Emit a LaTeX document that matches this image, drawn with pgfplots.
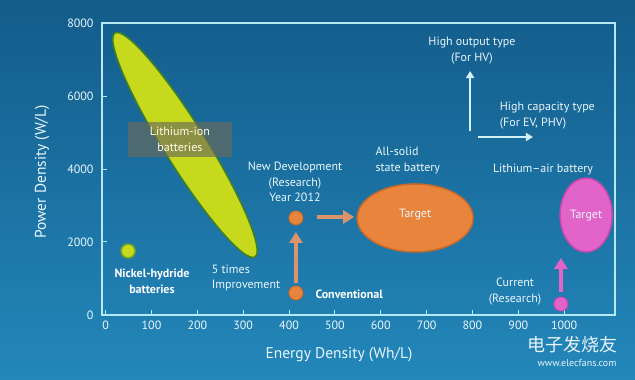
\documentclass[border=0pt]{standalone}
\usepackage{fontspec}
\setmainfont{PT Sans}
\newfontfamily\cjk{Noto Sans CJK SC}
\usepackage{pgfplots}
\pgfplotsset{compat=1.18}
\usetikzlibrary{arrows.meta}
\definecolor{bgtop}{HTML}{135C8A}
\definecolor{bgbot}{HTML}{2387BA}
\definecolor{axcol}{HTML}{B5EAF5}
\definecolor{txt}{HTML}{EAF7FB}
\definecolor{liion}{HTML}{C6D91C}
\definecolor{liedge}{HTML}{3F7F2A}
\definecolor{orng}{HTML}{E8843C}
\definecolor{orngedge}{HTML}{C8692C}
\definecolor{orarrow}{HTML}{D9946C}
\definecolor{pinkf}{HTML}{E264C8}
\definecolor{pinkedge}{HTML}{C848B0}
\definecolor{boxc}{HTML}{6B6A5A}
\begin{document}
\begin{tikzpicture}
\useasboundingbox (0pt,0pt) rectangle (635pt,380pt);
\shade[top color=bgtop, bottom color=bgbot] (0pt,0pt) rectangle (635pt,380pt);
\begin{axis}[
  at={(102pt,65pt)}, anchor=south west,
  width=513pt, height=292pt, scale only axis,
  xmin=-8, xmax=1111, ymin=0, ymax=8000,
  clip=false,
  axis line style={axcol, line width=2pt},
  xtick={0,100,...,1000}, ytick={0,2000,...,8000},
  xtick pos=left, ytick pos=left, tick align=inside,
  major tick length=5pt,
  tick style={axcol, line width=1pt},
  ticklabel style={font=\fontsize{12}{13}\selectfont, text=txt},
  yticklabel style={xshift=-5pt},
  xticklabel style={yshift=-2pt},
  /pgf/number format/assume math mode=true,
  /pgf/number format/1000 sep={},
  scaled ticks=false,
  xlabel={Energy Density (Wh/L)},
  ylabel={Power Density (W/L)},
  xlabel style={at={(axis description cs:0.462,-0.137)}, anchor=center, font=\fontsize{15.5}{18}\selectfont, text=txt},
  ylabel style={at={(axis description cs:-0.117,0.49)}, anchor=center, font=\fontsize{15.5}{18}\selectfont, text=txt},
]
% Lithium-ion region
\addplot[only marks, mark=*, mark size=21pt,
  mark options={fill=liion, draw=liedge, line width=1.6pt, rotate=-58, xscale=6.29}]
  coordinates {(173,4658)};
% Nickel-hydride
\addplot[only marks, mark=*, mark size=7pt,
  mark options={fill=liion, draw=liedge!60!liion, line width=1.5pt}]
  coordinates {(49,1753)};
% orange arrows
\addplot[orarrow, line width=4pt, -{Triangle[width=13pt,length=11pt]}]
  coordinates {(415,877) (415,2274)};
\addplot[orarrow, line width=4pt, -{Triangle[width=13pt,length=11pt]}]
  coordinates {(461,2685) (542,2685)};
% orange points
\addplot[only marks, mark=*, mark size=7pt,
  mark options={fill=orng, draw=orngedge, line width=1pt}]
  coordinates {(415,2658) (415,603)};
% all-solid target
\addplot[only marks, mark=*, mark size=34pt,
  mark options={fill=orng, draw=orngedge, line width=1.5pt, xscale=1.706}]
  coordinates {(675,2658)};
% lithium-air target
\addplot[only marks, mark=*, mark size=26pt,
  mark options={fill=pinkf, draw=pinkedge, line width=1.5pt, yscale=1.423}]
  coordinates {(1048,2740)};
% pink arrow and point
\addplot[pinkf, line width=4pt, -{Triangle[width=13pt,length=11pt]}]
  coordinates {(993,630) (993,1562)};
\addplot[only marks, mark=*, mark size=7pt,
  mark options={fill=pinkf, draw=pinkedge, line width=1pt}]
  coordinates {(993,301)};
% white arrows
\addplot[axcol!60!white, line width=1.8pt, -{Triangle[width=8pt,length=7pt]}]
  coordinates {(795,5041) (795,6685)};
\addplot[axcol!60!white, line width=1.8pt, -{Triangle[width=8pt,length=7pt]}]
  coordinates {(812,4877) (932,4877)};
% anchor points for labels
\coordinate (liLab) at (axis cs:162,4808);
\coordinate (niLab) at (axis cs:101,918);
\coordinate (fiveLab) at (axis cs:224,1014);
\coordinate (convLab) at (axis cs:450,575);
\coordinate (newLab) at (axis cs:413,3644);
\coordinate (solidLab) at (axis cs:581,4247);
\coordinate (tgtA) at (axis cs:675,2740);
\coordinate (tgtB) at (axis cs:1048,2712);
\coordinate (airLab) at (axis cs:954,4000);
\coordinate (curLab) at (axis cs:893,644);
\coordinate (hoLab) at (axis cs:799,7247);
\coordinate (hcLab) at (axis cs:852,5466);
\end{axis}
\begin{scope}[every node/.style={text=txt, font=\fontsize{12}{15.5}\selectfont}]
\node[fill=boxc, fill opacity=0.65, text opacity=1, minimum width=104pt, minimum height=35pt,
  align=center, text=white!90!yellow] at (liLab) {Lithium-ion\\batteries};
\node[align=center, font=\bfseries\fontsize{12}{15.5}\selectfont, text=white]
  at (niLab) {Nickel-hydride\\batteries};
\node[align=left, anchor=west] at (fiveLab) {5 times\\Improvement};
\node[anchor=west, font=\bfseries\fontsize{12}{15}\selectfont, text=white] at (convLab) {Conventional};
\node[align=center] at (newLab) {New Development\\(Research)\\Year 2012};
\node[align=left, anchor=west, font=\fontsize{12}{16}\selectfont] at (solidLab) {All-solid\\state battery};
\node at (tgtA) {Target};
\node at (tgtB) {Target};
\node at (airLab) {Lithium--air battery};
\node[align=center] at (curLab) {Current\\(Research)};
\node[align=center] at (hoLab) {High output type\\(For HV)};
\node[align=left, anchor=west] at (hcLab) {High capacity type\\(For EV, PHV)};
\end{scope}
\node[text=white, opacity=0.9, font=\cjk\fontsize{18}{18}\selectfont] at (572pt,35pt) {电子发烧友};
\node[text=white, opacity=0.9, font=\fontsize{10}{10}\selectfont] at (577pt,17pt) {www.elecfans.com};
\end{tikzpicture}
\end{document}
